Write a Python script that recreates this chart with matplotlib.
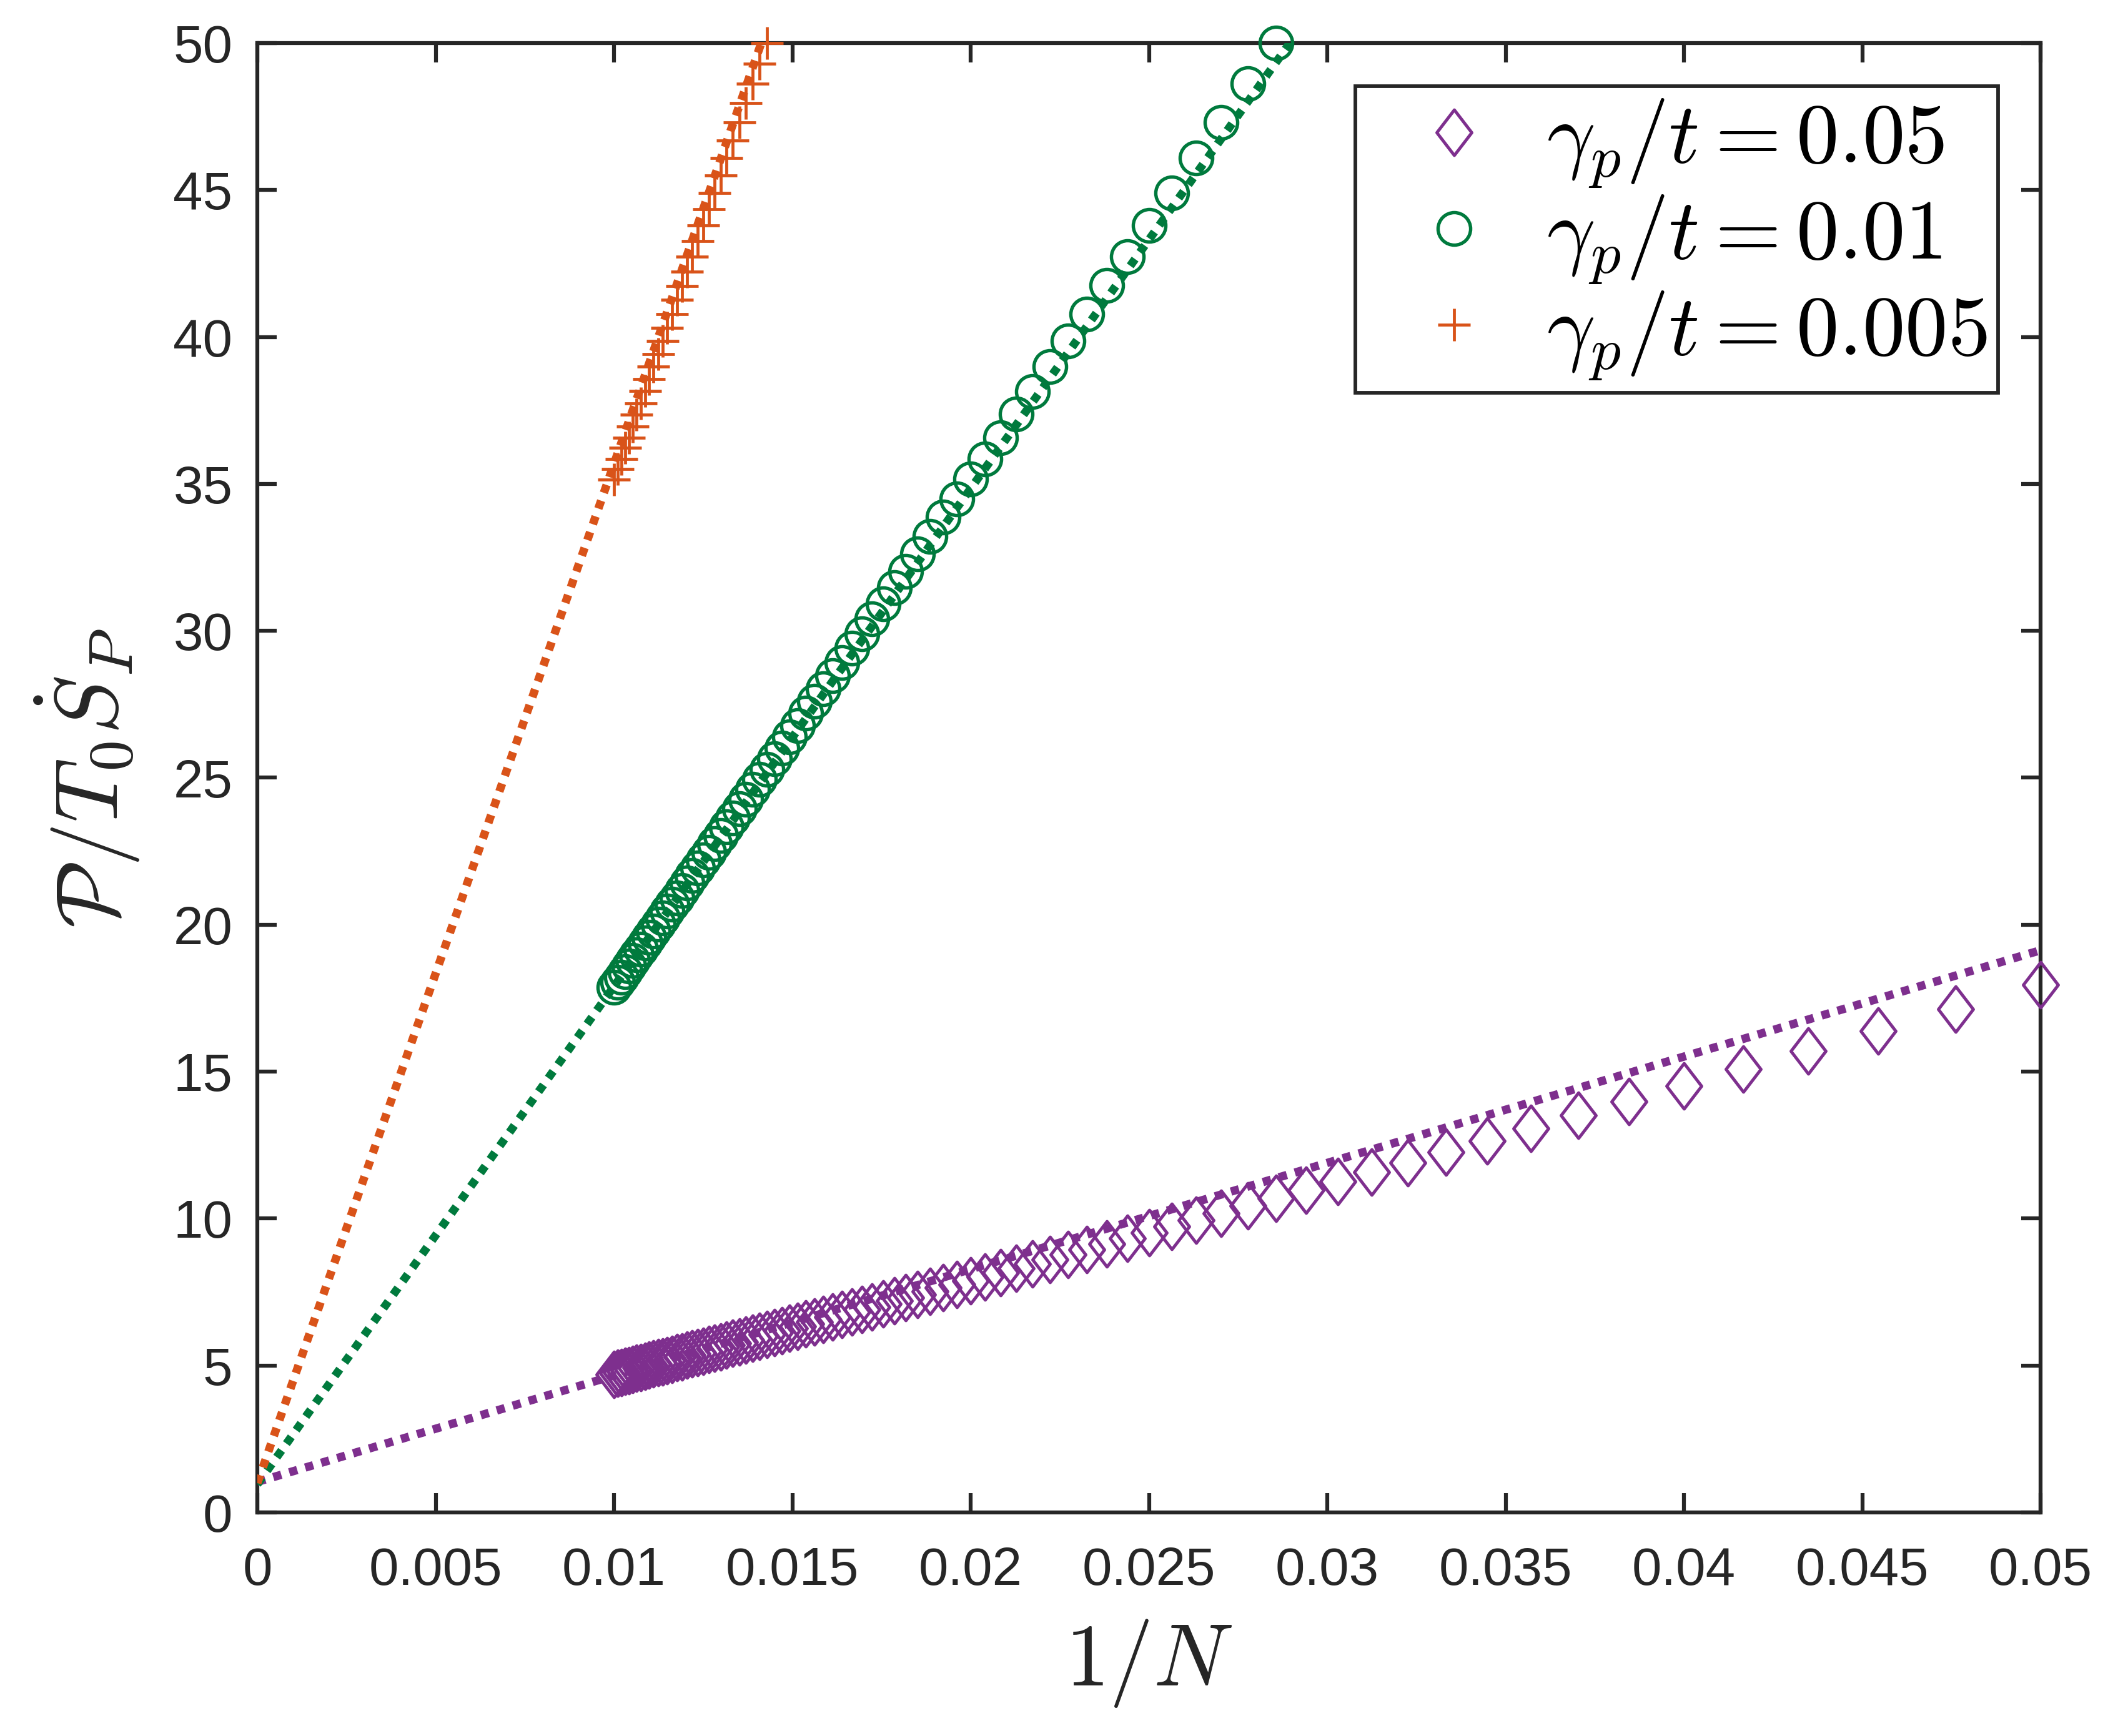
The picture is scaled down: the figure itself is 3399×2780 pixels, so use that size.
import matplotlib
matplotlib.use("Agg")
import matplotlib.pyplot as plt
from matplotlib.path import Path

plt.rcParams['font.family'] = ['Liberation Sans', 'DejaVu Sans']
plt.rcParams['mathtext.fontset'] = 'cm'

# ---------------- data ----------------
N_purple = list(range(20, 101))
y_purple = [17.95, 17.12, 16.38, 15.70, 15.08, 14.51, 13.99, 13.51, 13.07, 12.65,
            12.27, 11.91, 11.58, 11.26, 10.97, 10.69, 10.43, 10.18, 9.95, 9.73,
            9.52, 9.32, 9.13, 8.95, 8.77, 8.61, 8.45, 8.30, 8.16, 8.02,
            7.89, 7.76, 7.64, 7.52, 7.41, 7.30, 7.20, 7.10, 7.00, 6.91,
            6.82, 6.73, 6.65, 6.56, 6.48, 6.41, 6.33, 6.26, 6.19, 6.12,
            6.06, 5.99, 5.93, 5.87, 5.81, 5.75, 5.70, 5.64, 5.59, 5.54,
            5.49, 5.44, 5.39, 5.35, 5.30, 5.26, 5.21, 5.17, 5.13, 5.09,
            5.05, 5.01, 4.97, 4.94, 4.90, 4.87, 4.83, 4.80, 4.77, 4.73,
            4.70]

N_green = list(range(35, 101))
y_green = [50.00, 48.61, 47.31, 46.08, 44.90, 43.79, 42.73, 41.75, 40.78, 39.86,
           38.99, 38.15, 37.37, 36.58, 35.85, 35.17, 34.49, 33.87, 33.21, 32.61,
           32.02, 31.46, 30.92, 30.40, 29.89, 29.40, 28.93, 28.47, 28.03, 27.60,
           27.19, 26.78, 26.39, 26.01, 25.64, 25.28, 24.94, 24.60, 24.27, 23.95,
           23.64, 23.33, 23.04, 22.75, 22.47, 22.20, 21.93, 21.67, 21.41, 21.17,
           20.92, 20.69, 20.46, 20.23, 20.01, 19.79, 19.58, 19.37, 19.17, 18.97,
           18.78, 18.59, 18.41, 18.22, 18.04, 17.87]

N_orange = list(range(70, 101))
y_orange = [50.00, 49.29, 48.61, 47.95, 47.31, 46.69, 46.09, 45.49, 44.91, 44.35,
            43.79, 43.26, 42.73, 42.23, 41.73, 41.26, 40.78, 40.32, 39.87, 39.41,
            38.99, 38.57, 38.16, 37.74, 37.35, 36.96, 36.58, 36.22, 35.85, 35.50,
            35.14]

# dotted fit lines (value at 1/N = 0 and at 1/N = 0.05)
fit_x = [0.0, 0.05]
fit_purple = [1.04, 19.13]
fit_green = [0.96, 85.66]
fit_orange = [1.00, 174.40]

labels = [r'$\gamma_p/t = 0.05$', r'$\gamma_p/t = 0.01$', r'$\gamma_p/t = 0.005$']
xticks = [0, 0.005, 0.01, 0.015, 0.02, 0.025, 0.03, 0.035, 0.04, 0.045, 0.05]
xticklabels = ['0', '0.005', '0.01', '0.015', '0.02', '0.025', '0.03', '0.035', '0.04', '0.045', '0.05']
yticks = [0, 5, 10, 15, 20, 25, 30, 35, 40, 45, 50]

# ---------------- style ----------------
c_purple = '#7E2F8E'
c_green = '#007A3D'
c_orange = '#D95319'
axcol = '#262626'

diamond = Path([(0, 1), (0.767, 0), (0, -1), (-0.767, 0), (0, 1)],
               [Path.MOVETO, Path.LINETO, Path.LINETO, Path.LINETO, Path.CLOSEPOLY])

fig = plt.figure(figsize=(3399 / 300, 2780 / 300), dpi=300)
ax = fig.add_axes([412 / 3399, 1 - 2422 / 2780, (3267 - 412) / 3399, (2422 - 69) / 2780])

xp = [1.0 / n for n in N_purple]
xg = [1.0 / n for n in N_green]
xo = [1.0 / n for n in N_orange]

h1, = ax.plot(xp, y_purple, linestyle='none', marker=diamond, markersize=17.5,
              markerfacecolor='none', markeredgecolor=c_purple, markeredgewidth=1.2,
              label=labels[0], clip_on=False, zorder=3)
h2, = ax.plot(xg, y_green, linestyle='none', marker='o', markersize=12.5,
              markerfacecolor='none', markeredgecolor=c_green, markeredgewidth=1.3,
              label=labels[1], clip_on=False, zorder=3)
h3, = ax.plot(xo, y_orange, linestyle='none', marker='+', markersize=12.7,
              markeredgecolor=c_orange, markeredgewidth=1.15,
              label=labels[2], clip_on=False, zorder=3)

for fy, col in [(fit_purple, c_purple), (fit_green, c_green), (fit_orange, c_orange)]:
    ax.plot(fit_x, fy, color=col, linewidth=3.2, linestyle=(0, (1, 1)),
            dash_capstyle='butt', zorder=4)

ax.set_xlim(0, 0.05)
ax.set_ylim(0, 50)
ax.set_xticks(xticks)
ax.set_xticklabels(xticklabels)
ax.set_yticks(yticks)

for s in ax.spines.values():
    s.set_color(axcol)
    s.set_linewidth(1.5)
ax.tick_params(axis='both', which='major', direction='in', length=7.5, width=1.5,
               color=axcol, labelcolor=axcol, labelsize=20.5,
               top=True, right=True)
ax.tick_params(axis='x', pad=13)
ax.tick_params(axis='y', pad=9.5)

ax.set_xlabel(r'$1/N$', fontsize=34, color=axcol, labelpad=8)
ax.set_ylabel(r'$\mathcal{P}/T_0\dot{S}_P$', fontsize=34, color=axcol, labelpad=12)

leg = ax.legend(handles=[h1, h2, h3], loc='upper right',
                bbox_to_anchor=(0.9762, 0.9707), borderaxespad=0,
                fontsize=32.8, frameon=True, fancybox=False, framealpha=1,
                edgecolor=axcol, handlelength=2.05, handletextpad=0.06,
                borderpad=0.13, labelspacing=0.05, markerscale=1.0)
leg.get_frame().set_linewidth(1.4)
for t in leg.get_texts():
    t.set_color('black')

fig.savefig('out.png', dpi=300, facecolor='white')
